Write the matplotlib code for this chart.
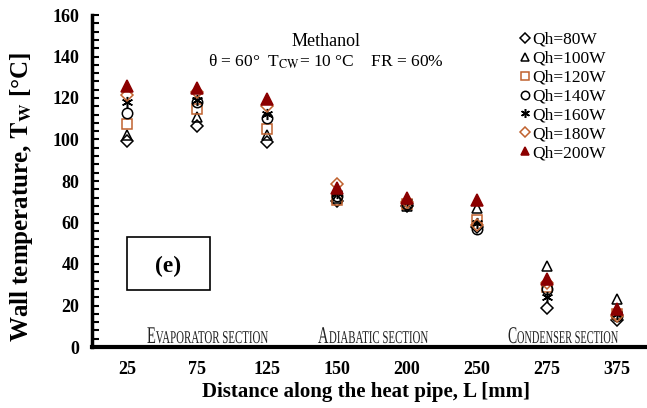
import matplotlib
matplotlib.use("Agg")
import matplotlib.pyplot as plt
from matplotlib.ticker import MultipleLocator
from matplotlib.patches import Rectangle, PathPatch
from matplotlib.textpath import TextPath
from matplotlib.font_manager import FontProperties
from matplotlib.transforms import Affine2D, IdentityTransform

plt.rcParams["font.family"] = "serif"
plt.rcParams["font.serif"] = ["Liberation Serif", "DejaVu Serif"]
plt.rcParams["mathtext.fontset"] = "stix"

# distance categories
distances = ["25", "75", "125", "150", "200", "250", "275", "375"]

# wall temperature (deg C) per heat input
q80 = [99.3, 106.5, 99.0, 70.5, 68.0, 58.0, 19.0, 13.0]
q100 = [102.0, 111.0, 102.0, 72.0, 68.0, 67.0, 39.0, 23.0]
q120 = [107.5, 114.5, 105.0, 71.0, 69.0, 61.0, 29.0, 16.0]
q140 = [113.0, 118.0, 110.5, 73.0, 69.0, 57.0, 28.0, 15.0]
q160 = [118.0, 119.0, 112.5, 74.0, 70.0, 60.0, 24.0, 16.0]
q180 = [121.5, 123.0, 116.0, 78.5, 70.0, 59.0, 31.0, 15.0]
q200 = [126.0, 125.0, 119.5, 76.5, 72.0, 71.0, 33.0, 18.5]

labels = ["Qh=80W", "Qh=100W", "Qh=120W", "Qh=140W", "Qh=160W", "Qh=180W", "Qh=200W"]
series = [q80, q100, q120, q140, q160, q180, q200]

orange = "#C0622F"
red = "#8B0000"
styles = [
    dict(marker="D", mfc="none", mec="black", ms=6.5),
    dict(marker="^", mfc="none", mec="black", ms=7.5),
    dict(marker="s", mfc="none", mec=orange, ms=7.5),
    dict(marker="o", mfc="none", mec="black", ms=7.5),
    dict(marker=(6, 2, 0), mfc="none", mec="black", ms=8),
    dict(marker="D", mfc="none", mec=orange, ms=6.5),
    dict(marker="^", mfc=red, mec=red, ms=8),
]

fig = plt.figure(figsize=(6.47, 4.08), dpi=100)
ax = fig.add_axes([92 / 647, 61 / 408, 555 / 647, 332 / 408])

xs = list(range(len(distances)))
for vals, lab, st in zip(series, labels, styles):
    ax.plot(xs, vals, linestyle="none", mew=1.1, label=lab, **st)

ax.set_xlim(-0.5, 7.43)
ax.set_ylim(0, 160)
ax.set_xticks(xs)
ax.set_xticklabels(distances)
ax.yaxis.set_major_locator(MultipleLocator(20))
ax.yaxis.set_minor_locator(MultipleLocator(4))
ax.tick_params(axis="x", length=0, pad=10, labelsize=13)
ax.tick_params(axis="y", which="both", direction="in", length=5, width=1.5, pad=9, labelsize=13)
for t in ax.get_xticklabels() + ax.get_yticklabels():
    t.set_fontweight("bold")

for s in ["top", "right"]:
    ax.spines[s].set_visible(False)
ax.spines["left"].set_linewidth(2.5)
ax.spines["bottom"].set_linewidth(3)

fig.text(22 / 647, 1 - 197 / 408, r"Wall temperature, $\mathbf{T_W}$ [°C]",
         rotation=90, ha="center", va="center", fontsize=18, fontweight="bold")
fig.text(366 / 647, 1 - 392 / 408, "Distance along the heat pipe, L [mm]",
         ha="center", va="center", fontsize=15, fontweight="bold")

fig.text(326 / 647, 1 - 41 / 408, "Methanol", ha="center", va="center", fontsize=13)
fig.text(326 / 647, 1 - 62 / 408, r"θ = 60°  T$_{\rm CW}$= 10 °C    FR = 60%",
         ha="center", va="center", fontsize=12.5)

# section labels in condensed small caps (pixel coordinates)
fp = FontProperties(family="Liberation Serif")
sections = [("E", "VAPORATOR SECTION", 147, 268), ("A", "DIABATIC SECTION", 318, 428),
            ("C", "ONDENSER SECTION", 508, 618)]
base_y = 408 - 343
for first, rest, x0, x1 in sections:
    p1 = TextPath((0, 0), first, size=24, prop=fp)
    w1 = p1.get_extents().x1
    p2 = TextPath((w1 + 1, 0), rest, size=18, prop=fp)
    total = p2.get_extents().x1
    sx = (x1 - x0) / total
    tr = Affine2D().scale(sx, 1).translate(x0, base_y)
    for p in (p1, p2):
        fig.patches.append(PathPatch(tr.transform_path(p), transform=IdentityTransform(),
                                     fc="#222222", ec="none"))

# (e) box
fig.patches.append(Rectangle((127 / 647, 1 - 290 / 408), 83 / 647, 53 / 408,
                             transform=fig.transFigure, fill=False, lw=1.2, ec="black"))
fig.text(168 / 647, 1 - 266 / 408, "(e)", ha="center", va="center", fontsize=17, fontweight="bold")

leg = ax.legend(loc="upper left", bbox_to_anchor=(511 / 647, 1 - 23 / 408), bbox_transform=fig.transFigure,
                frameon=False, fontsize=12.5, handlelength=0.6, handletextpad=0.15,
                labelspacing=0.16, borderpad=0, markerscale=0.8)

fig.savefig("out.png", dpi=100)
